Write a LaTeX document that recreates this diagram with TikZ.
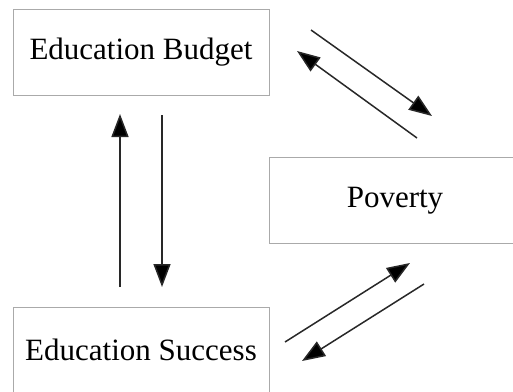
\documentclass[tikz,border=0pt]{standalone}
\usepackage{fontspec}
\setmainfont{Liberation Serif}
\usetikzlibrary{positioning,arrows.meta}
\definecolor{boxgray}{RGB}{170,170,170}
\definecolor{arrowgray}{RGB}{40,40,40}

\begin{document}
\begin{tikzpicture}[x=1pt,y=-1pt,
    factorbox/.style={draw=boxgray, line width=1pt, minimum width=256pt, minimum height=86pt, align=center, font=\fontsize{31}{36}\selectfont},
    link/.style={draw=arrowgray, line width=1.5pt, -{Triangle[length=23pt,width=17pt,fill=black]}}]
    \useasboundingbox (0,0) rectangle (513,391);
    \node[factorbox] (budget) at (141,52) {Education Budget};
    \node[factorbox, minimum width=252pt] (poverty) at (395,200.5) {Poverty};
    \node[factorbox] (success) at (141,350) {Education Success};

    % budget <-> poverty
    \coordinate (bp1) at (311,30);
    \coordinate (bp2) at (432,116);
    \coordinate (pb1) at (417,138);
    \coordinate (pb2) at (297,51);
    \draw[link] (bp1) -- (bp2);
    \draw[link] (pb1) -- (pb2);

    % budget <-> success
    \coordinate (sb1) at (120,287);
    \coordinate (sb2) at (120,114);
    \coordinate (bs1) at (162,115);
    \coordinate (bs2) at (162,287);
    \draw[link] (sb1) -- (sb2);
    \draw[link] (bs1) -- (bs2);

    % success <-> poverty
    \coordinate (sp1) at (285,342);
    \coordinate (sp2) at (410,263);
    \coordinate (ps1) at (424,284);
    \coordinate (ps2) at (302,361);
    \draw[link] (sp1) -- (sp2);
    \draw[link] (ps1) -- (ps2);
\end{tikzpicture}
\end{document}
